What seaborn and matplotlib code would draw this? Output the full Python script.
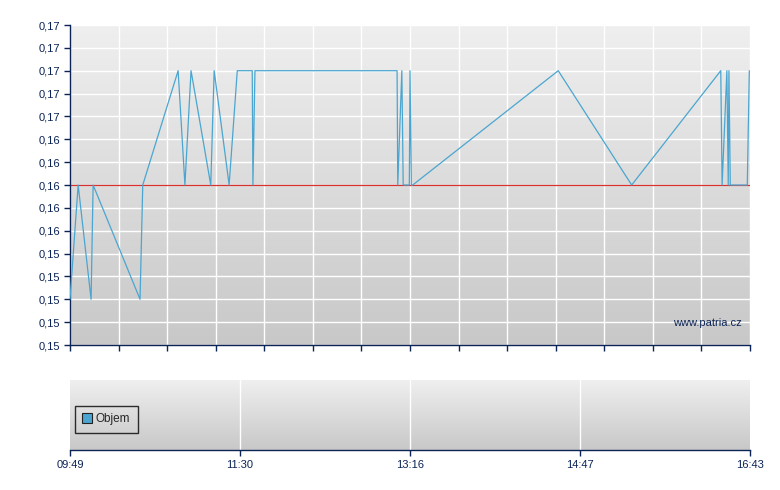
import numpy as np
import pandas as pd
import seaborn as sns
import matplotlib.pyplot as plt
from matplotlib.colors import LinearSegmentedColormap
from matplotlib.lines import Line2D
from matplotlib.ticker import FuncFormatter

# position within the session (0 = open, 1 = close) and trade price
pos = [0.000, 0.012, 0.031, 0.034, 0.103, 0.107, 0.159, 0.169, 0.178, 0.207,
       0.212, 0.234, 0.246, 0.268, 0.269, 0.272, 0.481, 0.482, 0.488, 0.490,
       0.499, 0.500, 0.502, 0.504, 0.718, 0.826, 0.957, 0.959, 0.966, 0.968,
       0.969, 0.971, 0.996, 0.999]
price = [0.15, 0.16, 0.15, 0.16, 0.15, 0.16, 0.17, 0.16, 0.17, 0.16,
         0.17, 0.16, 0.17, 0.17, 0.16, 0.17, 0.17, 0.16, 0.17, 0.16,
         0.16, 0.17, 0.16, 0.16, 0.17, 0.16, 0.17, 0.16, 0.17, 0.16,
         0.17, 0.16, 0.16, 0.17]
prev_close = 0.16
time_labels = ['09:49', '11:30', '13:16', '14:47', '16:43']

df = pd.DataFrame({'pos': pos, 'price': price})

sns.set_style('white')
plt.rcParams['font.family'] = ['Liberation Sans', 'DejaVu Sans']

navy = '#0b2355'
line_col = '#4aa6d0'

fig = plt.figure(figsize=(7.8, 4.9), dpi=100)
ax = fig.add_axes([70/780, 1-345/490, 680/780, 320/490])
axv = fig.add_axes([70/780, 1-450/490, 680/780, 70/490])

grad = LinearSegmentedColormap.from_list('g', ['#c8c8c8', '#efefef'])
for a in (ax, axv):
    a.imshow(np.linspace(0, 1, 256).reshape(-1, 1), extent=[0, 1, 0, 1],
             transform=a.transAxes, cmap=grad, aspect='auto', zorder=0,
             origin='lower')

# price panel
yticks = np.linspace(0.146, 0.174, 15)
xticks = np.linspace(0, 1, 15)
for y in yticks:
    ax.axhline(y, color='white', lw=1, zorder=1)
for x in xticks:
    ax.axvline(x, color='white', lw=1, zorder=1)
ax.axhline(prev_close, color='#d93030', lw=0.9, zorder=2)
sns.lineplot(data=df, x='pos', y='price', ax=ax, sort=False, estimator=None,
             color=line_col, lw=0.9, zorder=3)
ax.set_xlim(0, 1)
ax.set_ylim(0.146, 0.174)
ax.set_yticks(yticks)
ax.yaxis.set_major_formatter(FuncFormatter(lambda v, p: f'{v:.2f}'.replace('.', ',')))
ax.set_xticks(xticks)
ax.set_xticklabels([])
ax.set_xlabel('')
ax.set_ylabel('')
ax.tick_params(axis='both', direction='out', length=4, width=1, color=navy,
               labelcolor=navy, labelsize=8, pad=3, left=True, bottom=True)
for s in ['top', 'right']:
    ax.spines[s].set_visible(False)
for s in ['left', 'bottom']:
    ax.spines[s].set_color(navy)
    ax.spines[s].set_linewidth(1)
ax.text(0.988, 0.07, 'www.patria.cz', transform=ax.transAxes, ha='right',
        va='center', color=navy, fontsize=8, zorder=4)

# volume panel
vticks = np.linspace(0, 1, 5)
for x in vticks[1:-1]:
    axv.axvline(x, color='white', lw=1, zorder=1)
axv.set_xlim(0, 1)
axv.set_ylim(0, 1)
axv.set_yticks([])
axv.set_xticks(vticks)
axv.set_xticklabels(time_labels)
axv.tick_params(axis='x', direction='out', length=4, width=1, color=navy,
                labelcolor=navy, labelsize=8, pad=3, bottom=True)
for s in ['top', 'right', 'left']:
    axv.spines[s].set_visible(False)
axv.spines['bottom'].set_color(navy)
axv.spines['bottom'].set_linewidth(1)
h = Line2D([], [], marker='s', ls='', markersize=6.5, markerfacecolor=line_col,
           markeredgecolor='#222222', markeredgewidth=0.8)
leg = axv.legend([h], ['Objem'], loc='center left', bbox_to_anchor=(0.007, 0.44),
                 frameon=True, fancybox=False, fontsize=8.5, handletextpad=0.3,
                 handlelength=0.8, borderpad=0.65, borderaxespad=0)
leg.get_frame().set_edgecolor('black')
leg.get_frame().set_facecolor('none')
leg.get_frame().set_linewidth(1)

fig.savefig('out.png', dpi=100)
